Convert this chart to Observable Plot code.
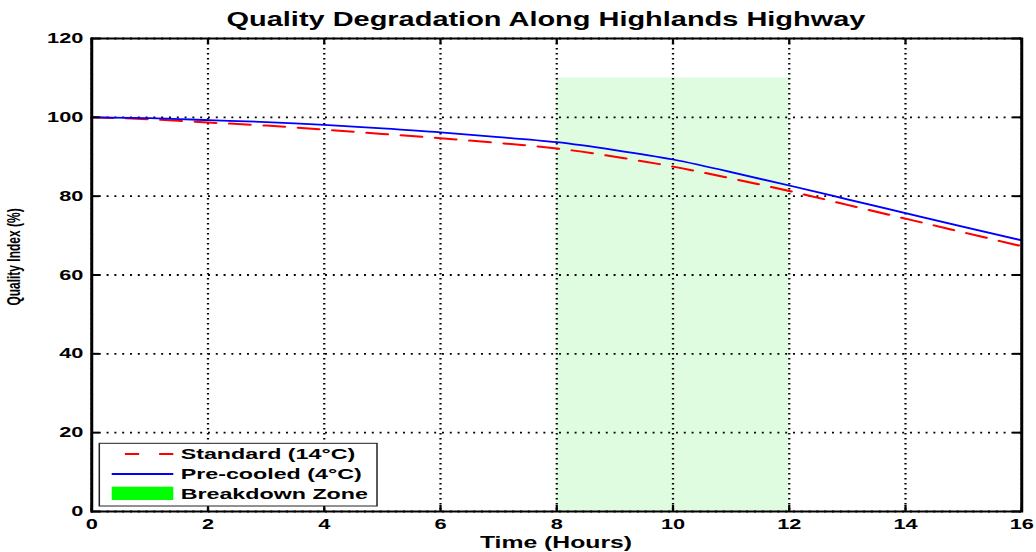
<!DOCTYPE html>
<html>
<head>
<meta charset="utf-8">
<script src="https://cdn.jsdelivr.net/npm/d3@7"></script>
<script src="https://cdn.jsdelivr.net/npm/@observablehq/plot@0.6"></script>
<style>
  html, body { margin: 0; padding: 0; background: white; }
  #chart svg { display: block; }
</style>
</head>
<body>
<div id="chart"></div>
<script>
// ---- data ----
const hours     = [0, 1, 2, 3, 4, 5, 6, 7, 8, 9, 10, 11, 12, 13, 14, 15, 16];
const standard  = [100, 99.5, 98.7, 97.9, 96.9, 95.8, 94.7, 93.5, 92.1, 90.0, 87.5, 84.5, 81.3, 77.8, 74.3, 70.8, 67.3];
const precooled = [100, 99.8, 99.3, 98.8, 98.1, 97.2, 96.2, 95.0, 93.7, 91.7, 89.3, 86.1, 82.7, 79.2, 75.7, 72.2, 68.8];
const zoneX = [8, 12];
const zoneY = [0, 110];
const xTicks = [0, 2, 4, 6, 8, 10, 12, 14, 16];
const yTicks = [0, 20, 40, 60, 80, 100, 120];
const seriesNames = ["Standard (14°C)", "Pre-cooled (4°C)"];
const zoneName = "Breakdown Zone";
const titleText = "Quality Degradation Along Highlands Highway";
const xLabel = "Time (Hours)";
const yLabel = "Quality Index (%)";

// ---- layout (drawn narrow, then stretched horizontally like the reference) ----
const OUT_W = 1036, H = 552, S = 1.5;
const W = OUT_W / S;
const mL = 91 / S, mR = W - 1021 / S, mT = 38, mB = 41;
const plotW = W - mL - mR, plotH = H - mT - mB;

const stdData = hours.map((h, i) => ({x: h, y: standard[i]}));
const preData = hours.map((h, i) => ({x: h, y: precooled[i]}));
const zone = [{x1: zoneX[0], x2: zoneX[1], y1: zoneY[0], y2: zoneY[1]}];

const svg = Plot.plot({
  width: W, height: H,
  marginLeft: mL, marginRight: mR, marginTop: mT, marginBottom: mB,
  style: {fontFamily: "Liberation Sans, Arial, sans-serif", fontSize: "14.5px", fontWeight: "bold", color: "black", background: "white"},
  x: {domain: [0, 16], label: null},
  y: {domain: [0, 120], label: null},
  marks: [
    Plot.rect(zone, {x1: "x1", x2: "x2", y1: "y1", y2: "y2", fill: "#e0fce0"}),
    Plot.gridX({ticks: xTicks, stroke: "black", strokeOpacity: 1, strokeWidth: 1.5, strokeDasharray: "1.5,3.5"}),
    Plot.gridY({ticks: yTicks, stroke: "black", strokeOpacity: 1, strokeWidth: 1.8, strokeDasharray: "1.3,3.9"}),
    Plot.line(stdData, {x: "x", y: "y", stroke: "#ff0000", strokeWidth: 2, strokeDasharray: "14,9", curve: "natural"}),
    Plot.line(preData, {x: "x", y: "y", stroke: "#0000ff", strokeWidth: 1.8, curve: "natural"}),
    Plot.tickX(xTicks, {x: d => d, insetTop: plotH - 6, stroke: "black", strokeWidth: 1.5}),
    Plot.tickX(xTicks, {x: d => d, insetBottom: plotH - 6, stroke: "black", strokeWidth: 1.5}),
    Plot.tickY(yTicks, {y: d => d, insetRight: plotW - 5.5, stroke: "black", strokeWidth: 2}),
    Plot.tickY(yTicks, {y: d => d, insetLeft: plotW - 5.5, stroke: "black", strokeWidth: 2}),
    Plot.frame({stroke: "black", strokeWidth: 2}),
    Plot.axisX({ticks: xTicks, tickSize: 0, tickPadding: 7, label: null, fontSize: 14.5, fontWeight: "bold"}),
    Plot.axisY({ticks: yTicks, tickSize: 0, tickPadding: 5.6, label: null, fontSize: 14.5, fontWeight: "bold"})
  ]
});

svg.setAttribute("width", OUT_W);
svg.setAttribute("height", H);
svg.setAttribute("viewBox", `0 0 ${W} ${H}`);
svg.setAttribute("preserveAspectRatio", "none");
svg.style.width = OUT_W + "px";
svg.style.height = H + "px";
svg.style.maxWidth = "none";

const g = d3.select(svg).append("g")
  .attr("font-family", "Liberation Sans, Arial, sans-serif")
  .attr("font-weight", "bold")
  .attr("fill", "black");

// title
g.append("text").attr("x", 546 / S).attr("y", 26).attr("text-anchor", "middle")
  .attr("font-size", 19.3).text(titleText);
// x label
g.append("text").attr("x", 556 / S).attr("y", 548).attr("text-anchor", "middle")
  .attr("font-size", 16.5).text(xLabel);
// y label
g.append("text").attr("transform", `translate(13,257) rotate(-90)`).attr("text-anchor", "middle")
  .attr("font-size", 12).text(yLabel);

// legend
const lx0 = 99.3 / S, lx1 = 377 / S, ly0 = 443.3, ly1 = 506;
const sx0 = 111.7 / S, sx1 = 173.3 / S, tx = 180.7 / S;
const leg = g.append("g");
leg.append("rect").attr("x", lx0).attr("y", ly0).attr("width", lx1 - lx0).attr("height", ly1 - ly0)
  .attr("fill", "white").attr("stroke", "#222").attr("stroke-width", 1);
leg.append("line").attr("x1", sx0).attr("x2", sx1).attr("y1", 454).attr("y2", 454)
  .attr("stroke", "#ff0000").attr("stroke-width", 1.8).attr("stroke-dasharray", "9.5,13.3").attr("stroke-dashoffset", 14);
leg.append("line").attr("x1", sx0).attr("x2", sx1).attr("y1", 474).attr("y2", 474)
  .attr("stroke", "#0000ff").attr("stroke-width", 1.8);
leg.append("rect").attr("x", sx0).attr("y", 486.7).attr("width", sx1 - sx0).attr("height", 13.3)
  .attr("fill", "#00ff00");
const rowsY = [459.5, 479.5, 499];
[seriesNames[0], seriesNames[1], zoneName].forEach((t, i) => {
  leg.append("text").attr("x", tx).attr("y", rowsY[i]).attr("text-anchor", "start")
    .attr("font-size", 15.5).text(t);
});

document.getElementById("chart").appendChild(svg);
</script>
</body>
</html>
